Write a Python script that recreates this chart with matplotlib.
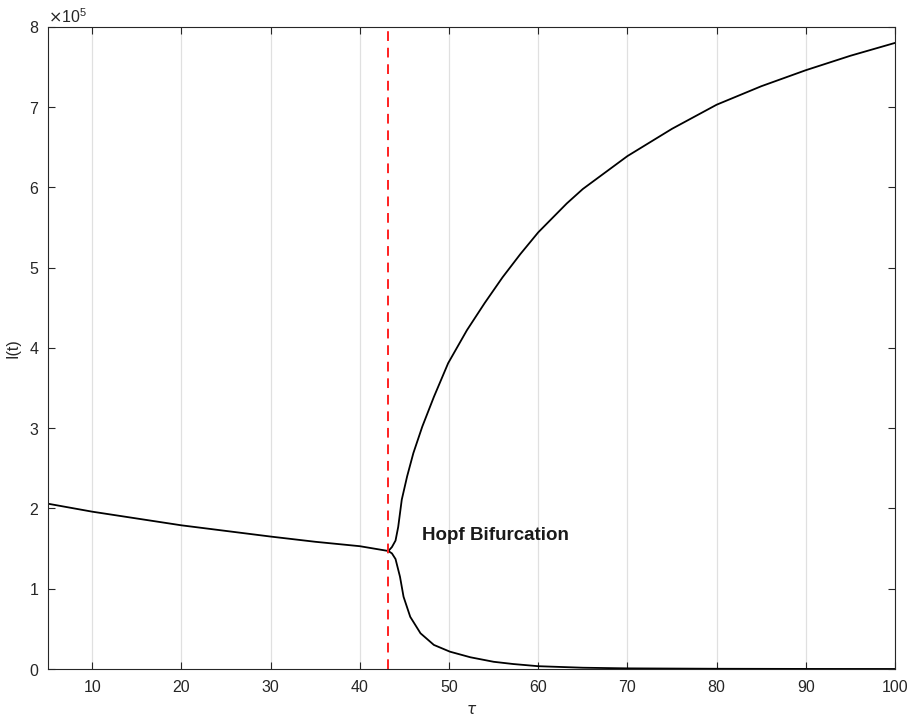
import numpy as np
import matplotlib.pyplot as plt
from matplotlib.ticker import ScalarFormatter

plt.rcParams['font.family'] = ['Liberation Sans', 'DejaVu Sans']

# rama estable antes de la bifurcacion
tau_left = [5, 10, 15, 20, 25, 30, 35, 40, 43.2]
I_left = [2.06e5, 1.96e5, 1.875e5, 1.79e5, 1.72e5, 1.65e5, 1.585e5, 1.53e5, 1.47e5]

# rama superior (maximos del ciclo limite)
tau_up = [43.2, 43.6, 44.0, 44.3, 44.7, 45.3, 46.0, 47.0, 48.3, 49.9, 52.0,
          54.0, 56.0, 58.0, 60.0, 63.2, 65.0, 70.0, 75.0, 80.0, 85.0, 90.0, 95.0, 100.0]
I_up = [1.47e5, 1.52e5, 1.60e5, 1.77e5, 2.11e5, 2.40e5, 2.69e5, 3.02e5, 3.39e5,
        3.81e5, 4.22e5, 4.56e5, 4.88e5, 5.17e5, 5.44e5, 5.80e5, 5.98e5, 6.39e5,
        6.73e5, 7.03e5, 7.26e5, 7.46e5, 7.64e5, 7.80e5]

# rama inferior (minimos del ciclo limite)
tau_low = [43.2, 43.6, 44.0, 44.5, 44.9, 45.65, 46.8, 48.3, 50.1, 52.4, 55.0,
           57.2, 60.0, 65.0, 70.0, 80.0, 90.0, 100.0]
I_low = [1.47e5, 1.44e5, 1.37e5, 1.15e5, 0.90e5, 0.65e5, 0.445e5, 0.30e5, 0.216e5,
         0.146e5, 0.09e5, 0.062e5, 0.035e5, 0.016e5, 0.008e5, 0.003e5, 0.001e5, 0.0005e5]

tau_hopf = 43.2
hopf_label = "Hopf Bifurcation"

fig = plt.figure(figsize=(9.17, 7.26), dpi=100)
ax = fig.add_axes([0.052, 0.0785, 0.924, 0.8845])

ax.plot(tau_left, I_left, color="black", lw=1.3)
ax.plot(tau_up, I_up, color="black", lw=1.3)
ax.plot(tau_low, I_low, color="black", lw=1.3)
ax.axvline(tau_hopf, color="#ff2020", ls=(0, (5, 3.5)), lw=1.4)

ax.text(47.0, 1.66e5, hopf_label, fontsize=13.5, fontweight="bold",
        va="center", ha="left", color="#1a1a1a")

ax.set_xlim(5, 100)
ax.set_ylim(0, 8e5)
ax.set_xticks(np.arange(10, 101, 10))
ax.set_yticks(np.arange(0, 8.01e5, 1e5))

fmt = ScalarFormatter(useMathText=True)
fmt.set_powerlimits((0, 0))
ax.yaxis.set_major_formatter(fmt)
ax.yaxis.get_offset_text().set_fontsize(11.5)
ax.yaxis.get_offset_text().set_color("#404040")

ax.grid(axis="x", color="#e0e0e0", lw=0.9)
ax.tick_params(direction="in", top=True, right=True, length=5, width=0.8,
               labelsize=11.5, colors="#262626")
ax.tick_params(axis="x", pad=8)
ax.tick_params(axis="y", pad=6)
for s in ax.spines.values():
    s.set_color("#262626")
    s.set_linewidth(0.8)

ax.set_xlabel(r"$\tau$", fontsize=11, color="#262626", labelpad=6)
ax.set_ylabel("I(t)", fontsize=11.5, color="#262626", labelpad=6)

fig.savefig("out.png", dpi=100)
